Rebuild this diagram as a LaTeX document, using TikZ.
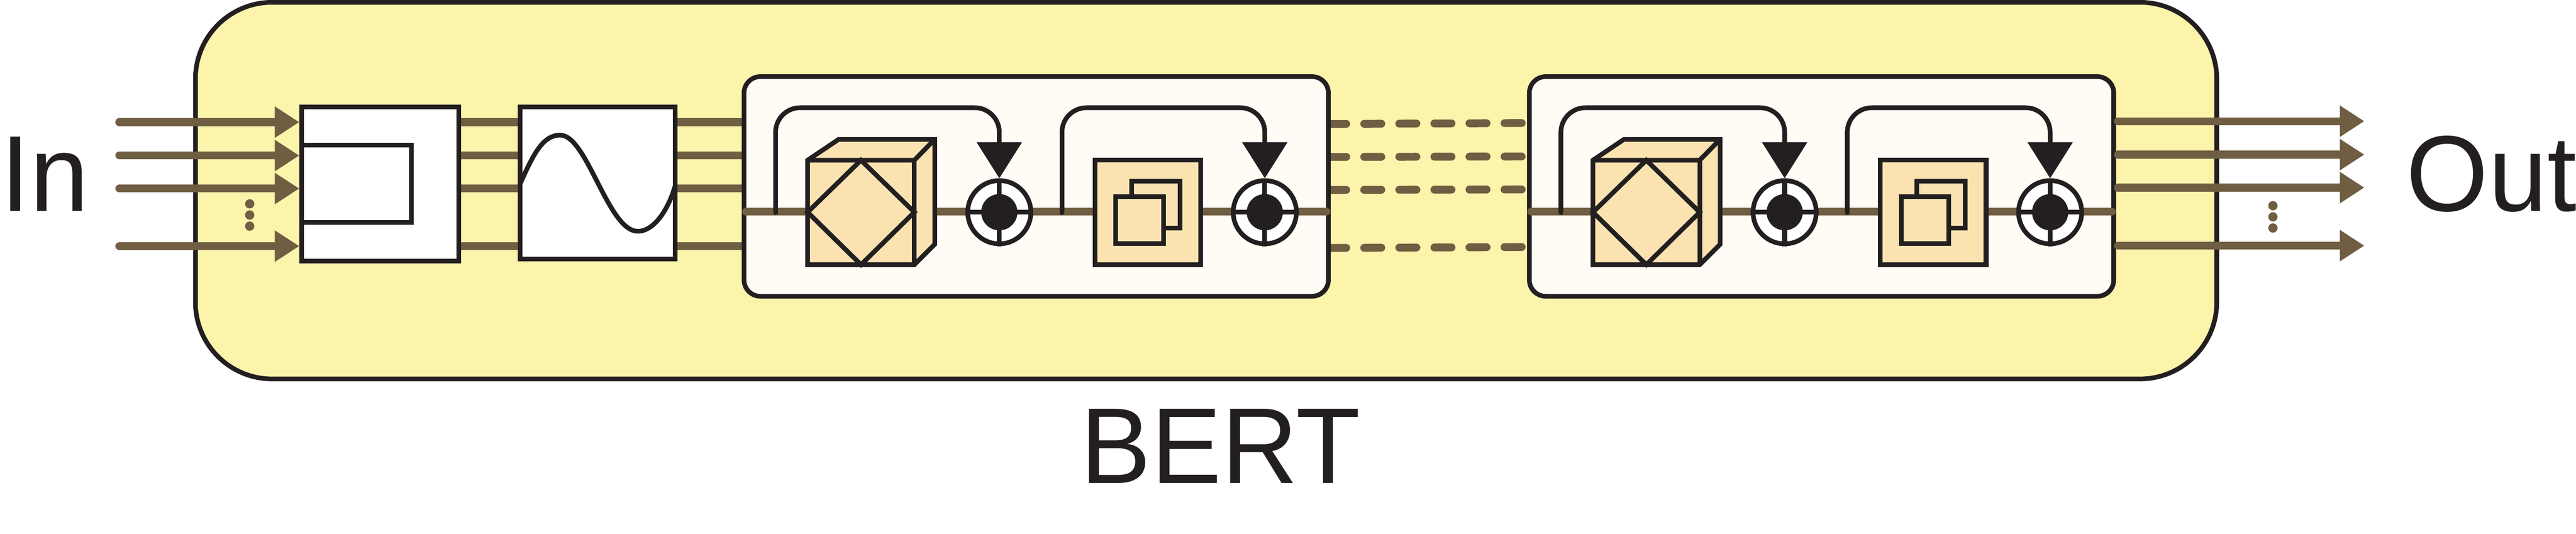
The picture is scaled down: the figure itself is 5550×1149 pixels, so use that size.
\documentclass[tikz,border=0pt]{standalone}
\usepackage{fontspec}
\setmainfont[FakeStretch=0.98]{Liberation Sans}
\usetikzlibrary{positioning, arrows.meta, calc}

\definecolor{bertyellow}{HTML}{FCF4AB}
\definecolor{sigbrown}{HTML}{705E42}
\definecolor{inkblack}{HTML}{231F20}
\definecolor{stagecream}{HTML}{FFFBF5}
\definecolor{parttan}{HTML}{FAE3B1}

\tikzset{
	x=0.01cm, y=-0.01cm,
	ink/.style={draw=inkblack, line width=2.85pt, line join=miter},
	sigline/.style={draw=sigbrown, line width=4.8pt, line cap=round},
	sigarrow/.style={sigline, -{Triangle[length=15pt, width=18.2pt]}},
	sigdash/.style={draw=sigbrown, line width=4.8pt, line cap=round, dash pattern=on 10.5pt off 11pt},
	fbarrow/.style={ink, line cap=round, rounded corners=15pt, -{Triangle[length=22pt, width=27pt, inkblack]}},
	label/.style={inner sep=0pt, text=inkblack, font=\fontsize{66}{66}\selectfont},
	sigdot/.style={circle, fill=sigbrown, inner sep=0pt, minimum size=5.7pt},
	stagebox/.style={ink, fill=stagecream, rounded corners=10pt},
	partbox/.style={ink, fill=parttan},
	whitebox/.style={draw=inkblack, fill=white, line width=2.85pt, inner sep=0pt},
}

% one stage of the amplifier chain
\newcommand{\stage}[2]{
	\begin{scope}[xshift=#1*0.01cm]
		\draw[stagebox] (1603,165) rectangle (2862,638);
		\coordinate (#2in) at (1607,456);
		\coordinate (#2out) at (2858,456);
		\draw[sigline] (#2in) -- (#2out);
		
		% first part, a block with a prism
		\filldraw[partbox] (1740,345) -- (1807,300) -- (2014,300) -- (2014,526) -- (1970,570) -- (1740,570) -- cycle;
		\draw[ink] (1740,345) -- (1970,345) -- (2014,300);
		\draw[ink] (1970,345) -- (1970,570);
		\draw[ink] (1855,345) -- (1970,457) -- (1855,570) -- (1740,457) -- cycle;
		
		% second part, two small plates
		\draw[partbox] (2359,345) rectangle (2587,570);
		\draw[partbox] (2438,390) rectangle (2542,491);
		\draw[partbox] (2404,424) rectangle (2507,525);
		
		% the two couplers
		\foreach \cx/\cn in {2153/a, 2725/b} {
			\node[circle, fill=white, draw=inkblack, line width=2.85pt, minimum size=136*0.2845pt, inner sep=0pt] (#2\cn) at (\cx,457) {};
			\draw[inkblack, line width=2.85pt] (#2\cn.north) -- (#2\cn.south);
			\draw[inkblack, line width=2.85pt] (#2\cn.west) -- (#2\cn.east);
			\fill[inkblack] (#2\cn) circle (39);
		}
		
		% feedback lines
		\coordinate (#2s) at (1671,458);
		\coordinate (#2t) at (2288,458);
		\draw[fbarrow] (#2s) -- (1671,232) -- (2153,232) -- (#2a.north);
		\draw[fbarrow] (#2t) -- (2288,232) -- (2725,232) -- (#2b.north);
	\end{scope}
}

\begin{document}
\begin{tikzpicture}
	\useasboundingbox (0,0) rectangle (5550,1149);
	
	% Outer block
	\draw[ink, fill=bertyellow, rounded corners=47pt] (421,5) rectangle (4776,816);
	
	% First two boxes
	\node[whitebox, minimum width=338*0.2845pt, minimum height=332*0.2845pt] (slicer) at (819,396) {};
	\node[whitebox, minimum width=334*0.2845pt, minimum height=328*0.2845pt] (filter) at (1288,394) {};
	\draw[ink] (slicer.west |- 0,313) -- (886,313) -- (886,479) -- (slicer.west |- 0,479);
	\draw[ink] (1121,395) .. controls (1150,330) and (1170,291) .. (1207,291)
		.. controls (1265,291) and (1310,498) .. (1374,498)
		.. controls (1410,498) and (1440,450) .. (1454,402);
	
	% Lines between the boxes
	\foreach \y in {263,335,406,530} {
		\coordinate (i\y) at (257,\y);
		\draw[sigarrow] (i\y) -- (slicer.west |- 0,\y);
		\draw[sigline, line cap=butt] (slicer.east |- 0,\y) -- (filter.west |- 0,\y);
		\draw[sigline, line cap=butt] (filter.east |- 0,\y) -- (1605,\y);
	}
	
	% Dashed links
	\foreach \ya/\yb in {267/265,338/337,409/408,534/532} {
		\coordinate (la\ya) at (2863.5,\ya);
		\coordinate (lb\ya) at (3279,\yb);
		\draw[sigdash] (la\ya) -- (lb\ya);
	}
	
	\stage{0}{m}
	\stage{1692}{n}
	
	% Out arrows
	\foreach \y in {261,333,404,529} {
		\coordinate (o\y) at (4563,\y);
		\coordinate (p\y) at (5094,\y);
		\draw[sigarrow] (o\y) -- (p\y);
	}
	
	% Dots
	\foreach \y in {439,463,487} {
		\node[sigdot] (d\y) at (538,\y) {};
	}
	\foreach \y in {443,467,491} {
		\node[sigdot] (e\y) at (4897,\y) {};
	}
	
	% Labels
	\node[label, anchor=base west] (inlabel) at (1,455) {In};
	\node[label, anchor=base east] (outlabel) at (5552,455) {Out};
	\node[label, anchor=base] (bertlabel) at (2630,1041) {BERT};
	
\end{tikzpicture}
\end{document}
